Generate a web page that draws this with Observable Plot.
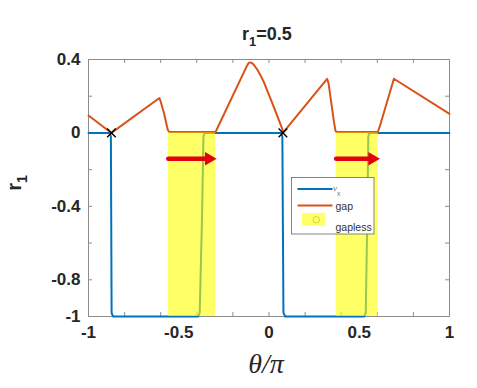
<!DOCTYPE html>
<html><head><meta charset="utf-8">
<script src="https://cdn.jsdelivr.net/npm/d3@7"></script>
<script src="https://cdn.jsdelivr.net/npm/@observablehq/plot@0.6"></script>
<style>body{margin:0;background:#fff;} #chart{width:477px;height:388px;}</style>
</head><body><div id="chart"></div>
<script>
// nu_x curve
const nuX = [-1, -0.882, -0.876, -0.874, -0.872, -0.864, -0.392, -0.384, -0.372, -0.363, -0.357, 0.068, 0.074, 0.077, 0.080, 0.090, 0.528, 0.536, 0.544, 0.550, 0.556, 1];
const nuY = [0, 0, -0.02, -0.5, -0.98, -1, -1, -0.98, -0.5, -0.02, 0, 0, -0.02, -0.5, -0.98, -1, -1, -0.98, -0.5, -0.02, 0, 0];
// gap curve
const gapX = [-1, -0.873, -0.607, -0.600, -0.583, -0.561, -0.553, -0.296, -0.125, -0.116, -0.108, -0.100, -0.090, -0.080, -0.065, -0.045, -0.029, 0.027, 0.075, 0.077, 0.322, 0.330, 0.360, 0.368, 0.374, 0.603, 0.612, 0.692, 1];
const gapY = [0.095, 0, 0.19, 0.17, 0.113, 0.017, 0.005, 0.005, 0.36, 0.377, 0.384, 0.383, 0.377, 0.366, 0.345, 0.31, 0.278, 0.14, 0.018, 0, 0.295, 0.27, 0.06, 0.013, 0.005, 0.005, 0.03, 0.295, 0.104];
// gapless regions
const gaplessStart = [-0.558, 0.372];
const gaplessEnd = [-0.296, 0.605];
const gaplessBottom = [-1, -1];
const gaplessTop = [0, 0];
// crossing markers
const crossX = [-0.873, 0.077];
const crossY = [0, 0];
// red arrows
const arrowStart = [-0.558, 0.372];
const arrowEnd = [-0.300, 0.605];
const arrowY = [-0.141, -0.141];
// ticks
const xTickLabels = [-1, -0.5, 0, 0.5, 1];
const xTicks = [-1, -0.8, -0.6, -0.4, -0.2, 0, 0.2, 0.4, 0.6, 0.8, 1];
const yTickLabels = [0.4, 0, -0.4, -0.8, -1];
const yTicks = [0.4, 0.2, 0, -0.2, -0.4, -0.6, -0.8, -1];

const nu = nuX.map((x, i) => ({x, y: nuY[i]}));
const gap = gapX.map((x, i) => ({x, y: gapY[i]}));
const gapless = gaplessStart.map((s, i) => ({x1: s, x2: gaplessEnd[i], y1: gaplessBottom[i], y2: gaplessTop[i]}));
const cross = crossX.map((x, i) => ({x, y: crossY[i]}));
const arrows = arrowStart.map((s, i) => ({x1: s, x2: arrowEnd[i], y: arrowY[i]}));

const FRAME = "#8c8c8c";
const TXT = "#262626";
const RED = "#e3000f";
const fmt = d => String(d);

const plot = Plot.plot({
  width: 477, height: 388,
  marginLeft: 88, marginRight: 28, marginTop: 59, marginBottom: 72,
  x: {domain: [-1, 1]},
  y: {domain: [-1, 0.4]},
  style: {fontFamily: "'Liberation Sans', Arial, sans-serif", color: TXT, background: "white"},
  marks: [
    Plot.frame({stroke: FRAME}),
    Plot.ruleX(xTicks, {x: d => d, y1: -1, y2: -1, insetTop: -4, stroke: FRAME}),
    Plot.ruleX(xTicks, {x: d => d, y1: 0.4, y2: 0.4, insetBottom: -4, stroke: FRAME}),
    Plot.ruleY(yTicks, {y: d => d, x1: -1, x2: -1, insetRight: -4, stroke: FRAME}),
    Plot.ruleY(yTicks, {y: d => d, x1: 1, x2: 1, insetLeft: -4, stroke: FRAME}),
    Plot.line(nu, {x: "x", y: "y", stroke: "#0072BD", strokeWidth: 2}),
    Plot.line(gap, {x: "x", y: "y", stroke: "#D95319", strokeWidth: 2}),
    Plot.rect(gapless, {x1: "x1", x2: "x2", y1: "y1", y2: "y2", fill: "#ffff00", fillOpacity: 0.6}),
    Plot.dot(cross, {x: "x", y: "y", symbol: "times", stroke: "black", r: 4, strokeWidth: 1.4}),
    Plot.arrow(arrows, {x1: "x1", x2: "x2", y1: "y", y2: "y", stroke: RED, strokeWidth: 4.5, headLength: 0, insetEnd: 9}),
    Plot.dot(arrows, {x: "x2", y: "y", symbol: "triangle", fill: RED, r: 5, rotate: 90, dx: -6}),
    Plot.axisX({anchor: "bottom", ticks: xTickLabels, tickSize: 0, tickPadding: 9, tickFormat: fmt, fontSize: 17, fontWeight: "bold", label: null}),
    Plot.axisY({anchor: "left", ticks: yTickLabels, tickSize: 0, tickPadding: 8, tickFormat: fmt, fontSize: 17, fontWeight: "bold", label: null})
  ]
});

const svg = d3.select(plot);
const font = "'Liberation Sans', Arial, sans-serif";

// title
const t = svg.append("text").attr("x", 267).attr("y", 40).attr("text-anchor", "middle")
  .attr("fill", TXT).style("font-family", font).style("font-weight", "bold").style("font-size", "18px");
t.append("tspan").text("r");
t.append("tspan").attr("dy", 6).style("font-size", "13px").text("1");
t.append("tspan").attr("dy", -6).text("=0.5");

// y label
const yl = svg.append("text").attr("transform", "translate(21,183) rotate(-90)").attr("text-anchor", "middle")
  .attr("fill", TXT).style("font-family", font).style("font-weight", "bold").style("font-size", "20px");
yl.append("tspan").text("r");
yl.append("tspan").attr("dy", 6).style("font-size", "14px").text("1");

// x label
svg.append("text").attr("x", 266).attr("y", 373).attr("text-anchor", "middle").attr("fill", TXT)
  .style("font-family", "'Liberation Serif', 'DejaVu Serif', serif").style("font-style", "italic").style("font-size", "28px")
  .text("θ/π");

// legend
const lg = svg.append("g").attr("text-anchor", "start").style("font-family", font).style("font-size", "10.5px").attr("fill", "#333");
lg.append("rect").attr("x", 291.5).attr("y", 177.5).attr("width", 82.5).attr("height", 56.5)
  .attr("fill", "white").attr("stroke", "#666").attr("stroke-width", 0.8);
lg.append("line").attr("x1", 297.5).attr("x2", 332.5).attr("y1", 189).attr("y2", 189).attr("stroke", "#0072BD").attr("stroke-width", 2);
lg.append("line").attr("x1", 297.5).attr("x2", 332.5).attr("y1", 205.5).attr("y2", 205.5).attr("stroke", "#D95319").attr("stroke-width", 2);
lg.append("rect").attr("x", 302).attr("y", 213).attr("width", 23).attr("height", 12.5).attr("fill", "#ffff00").attr("fill-opacity", 0.6);
lg.append("circle").attr("cx", 316.3).attr("cy", 219.7).attr("r", 3.2).attr("fill", "none").attr("stroke", "#c8c840").attr("stroke-width", 0.8);
const nuT = lg.append("text").attr("x", 333).attr("y", 191.3).attr("fill", "#777");
nuT.append("tspan").style("font-style", "italic").style("font-family", "'Liberation Serif', serif").style("font-size", "9px").text("ν");
nuT.append("tspan").attr("dy", 5).style("font-size", "7px").text("x");
lg.append("text").attr("x", 335.5).attr("y", 209.5).text("gap");
lg.append("text").attr("x", 335.5).attr("y", 230.5).text("gapless");

document.getElementById("chart").appendChild(plot);
</script>
</body></html>
